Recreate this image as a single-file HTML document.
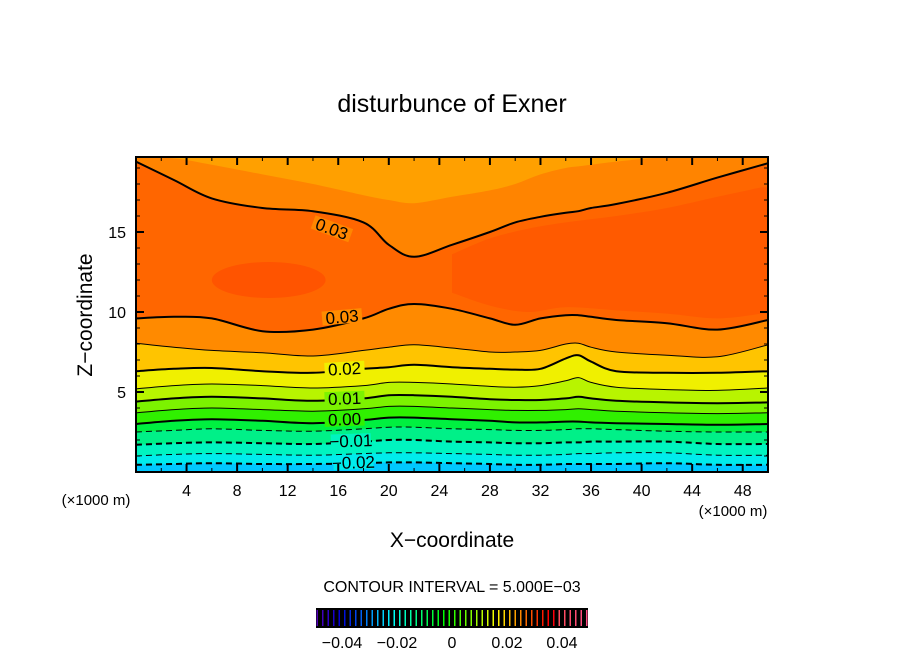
<!DOCTYPE html>
<html><head><meta charset="utf-8"><style>
body{margin:0;background:#fff;}
svg text{font-family:"Liberation Sans",sans-serif;fill:#000;}
</style></head><body>
<svg id="c" width="904" height="654" viewBox="0 0 904 654">
<text x="452" y="112" text-anchor="middle" font-size="25">disturbunce of Exner</text>
<g id="plot"></g>
<g id="axes"></g>
<text x="96" y="505" text-anchor="middle" font-size="15">(×1000 m)</text>
<text x="733" y="516" text-anchor="middle" font-size="15">(×1000 m)</text>
<text x="452" y="547" text-anchor="middle" font-size="21">X−coordinate</text>
<text transform="translate(92,315) rotate(-90)" text-anchor="middle" font-size="21">Z−coordinate</text>
<text x="452" y="592" text-anchor="middle" font-size="16">CONTOUR INTERVAL = 5.000E−03</text>
<g id="cbar"></g>
</svg>
<script>
const xs=[0,3,6,10,14,18,20,22,25,28,30,32,34,35,36,38,42,46,50];
const levelValues=[-0.02,-0.015,-0.01,-0.005,0,0.005,0.01,0.015,0.02,0.025,0.03];
const lvM020=[0.45,0.5,0.55,0.5,0.5,0.55,0.6,0.6,0.55,0.5,0.45,0.45,0.5,0.5,0.5,0.5,0.55,0.45,0.45];
const lvM015=[1.0,1.1,1.15,1.1,1.05,1.15,1.2,1.2,1.15,1.1,1.05,1.05,1.1,1.15,1.15,1.2,1.2,1.05,1.05];
const lvM010=[1.7,1.8,1.85,1.8,1.75,1.9,2.0,2.0,1.9,1.85,1.8,1.8,1.85,1.85,1.9,1.9,1.9,1.75,1.75];
const lvM005=[2.5,2.6,2.7,2.6,2.55,2.7,2.8,2.8,2.7,2.65,2.6,2.6,2.65,2.7,2.7,2.65,2.55,2.5,2.5];
const lv000=[3.0,3.2,3.3,3.2,3.05,3.25,3.4,3.4,3.3,3.2,3.1,3.1,3.15,3.15,3.1,3.05,3.0,2.95,3.0];
const lv005=[3.7,3.9,4.0,3.9,3.8,3.95,4.1,4.1,4.0,3.9,3.85,3.85,3.9,3.95,3.9,3.8,3.7,3.65,3.7];
const lv010=[4.4,4.6,4.7,4.6,4.45,4.6,4.8,4.8,4.7,4.55,4.5,4.5,4.6,4.7,4.6,4.45,4.35,4.3,4.35];
const lv015=[5.2,5.4,5.5,5.4,5.25,5.4,5.6,5.6,5.5,5.35,5.3,5.4,5.7,5.9,5.6,5.3,5.15,5.1,5.25];
const lv020=[6.3,6.45,6.5,6.3,6.2,6.45,6.55,6.7,6.55,6.45,6.4,6.45,7.1,7.3,6.9,6.3,6.2,6.2,6.3];
const lv025=[8.05,7.8,7.6,7.45,7.25,7.6,7.8,7.95,7.75,7.5,7.5,7.6,8.0,8.05,7.8,7.5,7.3,7.2,7.95];
const lv030=[9.6,9.7,9.6,8.8,8.9,9.6,10.2,10.5,10.2,9.6,9.2,9.6,9.8,9.8,9.7,9.5,9.3,8.9,9.5];
const lv030up=[19.4,18.25,17.1,16.5,16.3,15.6,14.2,13.45,14.2,15.0,15.6,15.95,16.2,16.3,16.5,16.75,17.45,18.4,19.3];
const lv025up=[19.7,19.6,19.2,18.6,18.0,17.3,17.0,16.8,17.2,17.6,18.0,18.6,19.0,19.1,19.2,19.4,19.7,19.7,19.7];
const coreX=[25,28,31,34,38,42,46,49.5];
const coreTop=[13.6,14.6,15.2,15.6,16.0,16.5,17.2,17.8];
const coreBot=[11.2,10.4,10.0,10.3,10.1,9.9,9.6,9.9];
const xTicks=[4,8,12,16,20,24,28,32,36,40,44,48];
const yTicks=[5,10,15];
const cbarTicks=[-0.04,-0.02,0,0.02,0.04];
const cbarTickLabels=["−0.04","−0.02","0","0.02","0.04"];
const contourLabels=[["0.03",15.5,15.2,20,'#ff8600'],["0.03",16.3,9.7,-5,'#ff8c00'],["0.02",16.5,6.45,-3,'#f0f000'],["0.01",16.5,4.6,-2,'#7cf200'],["0.00",16.5,3.3,-2,'#30f000'],["−0.01",17,1.95,-2,'#00f4c0'],["−0.02",17.2,0.6,-2,'#00ecec']];

const X0=136,X1=768,Y0=472,Y1=157,XMAX=50,ZMAX=(472-157)/16;
const sx=x=>X0+x/XMAX*(X1-X0);
const sy=z=>Y0-Math.min(z,ZMAX)*16;
const NS='http://www.w3.org/2000/svg';
function mk(t,a,p){const e=document.createElementNS(NS,t);for(const k in a)e.setAttribute(k,a[k]);p.appendChild(e);return e;}
function pts(xa,za){return xa.map((x,i)=>[sx(x),sy(za[i])]);}
function smooth(P){let d='';for(let i=0;i<P.length-1;i++){const p0=P[Math.max(i-1,0)],p1=P[i],p2=P[i+1],p3=P[Math.min(i+2,P.length-1)];
const c1=[p1[0]+(p2[0]-p0[0])/6,p1[1]+(p2[1]-p0[1])/6],c2=[p2[0]-(p3[0]-p1[0])/6,p2[1]-(p3[1]-p1[1])/6];
d+=`C${c1[0].toFixed(1)},${c1[1].toFixed(1)} ${c2[0].toFixed(1)},${c2[1].toFixed(1)} ${p2[0].toFixed(1)},${p2[1].toFixed(1)}`;}return d;}
function lineD(za){const P=pts(xs,za);return `M${P[0][0]},${P[0][1]}`+smooth(P);}
function belowD(za){return lineD(za)+`L${X1},${Y0}L${X0},${Y0}Z`;}
function aboveD(za){return lineD(za)+`L${X1},${Y1}L${X0},${Y1}Z`;}
const plot=document.getElementById('plot');
const clip=mk('clipPath',{id:'pc'},mk('defs',{},plot));mk('rect',{x:X0,y:Y1,width:X1-X0,height:Y0-Y1},clip);
const g=mk('g',{'clip-path':'url(#pc)'},plot);
let r=mk('rect',{x:X0,y:Y1,width:X1-X0,height:Y0-Y1,fill:'#ff6600'},g);


const bandsAbove=[[lv030up,'#ff8400','band-upper-0.025'],[lv025up,'#ffa000','band-top']];
bandsAbove.forEach(b=>{const e=mk('path',{d:aboveD(b[0]),fill:b[1]},g);

});
{const P=coreX.map((x,i)=>[sx(x),sy(coreTop[i])]),Q=coreX.map((x,i)=>[sx(x),sy(coreBot[i])]).reverse();
const e=mk('path',{d:`M${P[0][0]},${P[0][1]}`+smooth(P)+`L${sx(51)},${sy(coreTop[coreTop.length-1])}L${sx(51)},${sy(coreBot[coreBot.length-1])}L${Q[0][0]},${Q[0][1]}`+smooth(Q)+'Z',fill:'#ff5a00'},g);


const el=mk('ellipse',{cx:sx(10.5),cy:sy(12.0),rx:(sx(4.5)-sx(0)),ry:18,fill:'#ff5400'},g);

}
const bandsBelow=[[lv030,'#ff8a00'],[lv025,'#ffc400'],[lv020,'#f0f000'],[lv015,'#b8f400'],[lv010,'#7cf200'],[lv005,'#30f000'],[lv000,'#00f040'],[lvM005,'#00f088'],[lvM010,'#00f4c0'],[lvM015,'#00ecec'],[lvM020,'#00c8ff']];
bandsBelow.forEach((b,i)=>{const e=mk('path',{d:belowD(b[0]),fill:b[1]},g);

});
const lines=[[lv030up,0.03],[lv030,0.03],[lv025,0.025],[lv020,0.02],[lv015,0.015],[lv010,0.01],[lv005,0.005],[lv000,0],[lvM005,-0.005],[lvM010,-0.01],[lvM015,-0.015],[lvM020,-0.02]];
lines.forEach(l=>{const thick=Math.abs(Math.round(l[1]*1000))%10===0;
const a={d:lineD(l[0]),fill:'none',stroke:'#000','stroke-width':thick?2:1};
if(l[1]<0)a['stroke-dasharray']='6,4';
const e=mk('path',a,g);

});
contourLabels.forEach(c=>{const tr=`rotate(${c[3]} ${sx(c[1])} ${sy(c[2])})`;
const bg=mk('rect',{x:sx(c[1])-20,y:sy(c[2])-7,width:40,height:14,fill:c[4],transform:tr},g);


const e=mk('text',{x:sx(c[1]),y:sy(c[2])+6,'font-size':17,'text-anchor':'middle',transform:tr},g);e.textContent=c[0];

});
const ax=document.getElementById('axes');
mk('rect',{x:X0,y:Y1,width:X1-X0,height:Y0-Y1,fill:'none',stroke:'#000','stroke-width':2},ax);
for(let x=2;x<50;x+=2){const L=x%4===0?8:4;mk('line',{x1:sx(x),x2:sx(x),y1:Y0,y2:Y0-L,stroke:'#000','stroke-width':x%4===0?2:1},ax);mk('line',{x1:sx(x),x2:sx(x),y1:Y1,y2:Y1+L,stroke:'#000','stroke-width':x%4===0?2:1},ax);}
for(let z=1;z<ZMAX;z++){const L=z%5===0?8:4;mk('line',{x1:X0,x2:X0+L,y1:sy(z),y2:sy(z),stroke:'#000','stroke-width':z%5===0?2:1},ax);mk('line',{x1:X1,x2:X1-L,y1:sy(z),y2:sy(z),stroke:'#000','stroke-width':z%5===0?2:1},ax);}
xTicks.forEach(x=>{const t=mk('text',{x:sx(x),y:496,'font-size':16,'text-anchor':'middle'},ax);t.textContent=x;

});
yTicks.forEach(z=>{const t=mk('text',{x:126,y:sy(z)+6,'font-size':16,'text-anchor':'end'},ax);t.textContent=z;

});
const cb=document.getElementById('cbar');
const cx=v=>452+v*2750;
mk('rect',{x:316,y:608,width:272,height:20,fill:'#000'},cb);
function col(v){const t=(v+0.05)/0.1;let h;if(t<0.85)h=270-t/0.85*270;else h=360-(t-0.85)/0.15*20;const l=t>0.88?65:(t<0.2?35+t*75:50);return `hsl(${h},100%,${l}%)`;}
for(let v=-0.049;v<0.05;v+=0.002){mk('line',{x1:cx(v),x2:cx(v),y1:610,y2:626,stroke:col(v),'stroke-width':1.5},cb);}
cbarTicks.forEach((v,i)=>{const t=mk('text',{x:cx(v),y:648,'font-size':16,'text-anchor':'middle'},cb);t.textContent=cbarTickLabels[i];

});
</script>
</body></html>
